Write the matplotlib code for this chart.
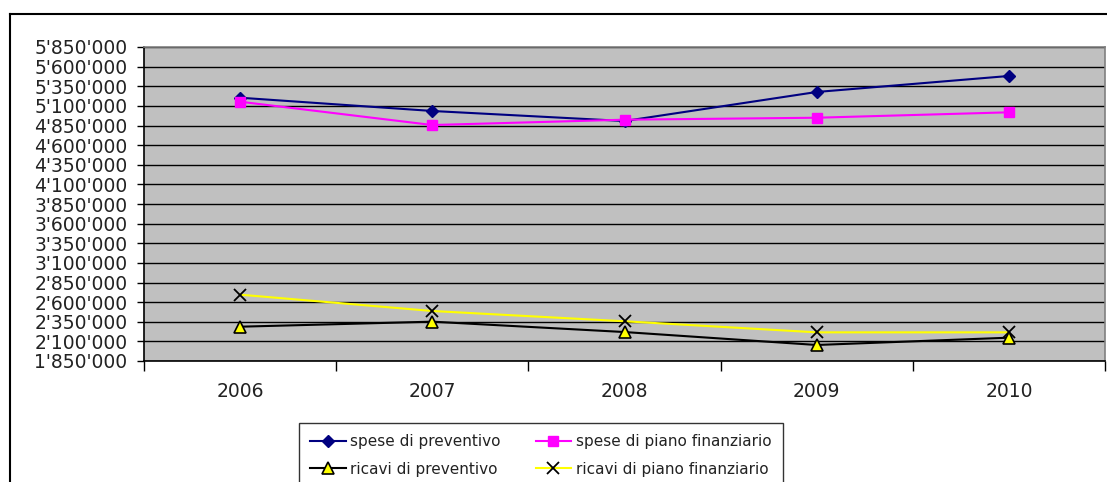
import matplotlib.pyplot as plt
from matplotlib.ticker import FuncFormatter, FixedLocator
from matplotlib.lines import Line2D

## Data
years = ["2006", "2007", "2008", "2009", "2010"]
spese_preventivo = [5204000, 5035000, 4907000, 5277000, 5481000]
spese_piano = [5153000, 4856000, 4924000, 4949000, 5018000]
ricavi_preventivo = [2287000, 2351000, 2219000, 2054000, 2147000]
ricavi_piano = [2695000, 2487000, 2356000, 2215000, 2215000]

plt.rcParams["font.family"] = ["DejaVu Sans"]

fig = plt.figure(figsize=(11.07, 4.82), dpi=100)
ax = fig.add_axes([144 / 1107, 1 - 361 / 482, (1105 - 144) / 1107, (361 - 47) / 482])
ax.set_facecolor("#C0C0C0")

x = list(range(len(years)))
ax.plot(x, spese_preventivo, color="#000080", lw=1.5, marker="D", ms=6.5,
        mfc="#000080", mec="#000080", label="spese di preventivo", zorder=3)
ax.plot(x, spese_piano, color="#FF00FF", lw=1.5, marker="s", ms=7,
        mfc="#FF00FF", mec="#FF00FF", label="spese di piano finanziario", zorder=3)
ax.plot(x, ricavi_preventivo, color="black", lw=1.5, marker="^", ms=8,
        mfc="#FFFF00", mec="black", mew=1.2, label="ricavi di preventivo", zorder=3)
ax.plot(x, ricavi_piano, color="#FFFF00", lw=1.5, marker="x", ms=8,
        mec="black", mew=1.3, label="ricavi di piano finanziario", zorder=3)

# axes and grid
ax.set_xlim(-0.5, len(years) - 0.5)
ax.set_ylim(1850000, 5850000)
ax.yaxis.set_major_locator(FixedLocator(range(1850000, 5850001, 250000)))
ax.yaxis.set_major_formatter(FuncFormatter(lambda v, p: f"{int(v):,}".replace(",", "'")))
ax.grid(axis="y", color="black", lw=1)
ax.set_axisbelow(True)

ax.xaxis.set_major_locator(FixedLocator([i - 0.5 for i in range(len(years) + 1)]))
ax.xaxis.set_major_formatter(FuncFormatter(lambda v, p: ""))
ax.xaxis.set_minor_locator(FixedLocator(x))
ax.set_xticklabels(years, minor=True)
ax.tick_params(axis="x", which="major", length=7, width=1, color="black")
ax.tick_params(axis="x", which="minor", length=0, pad=15, labelsize=13.5, labelcolor="#222222")
ax.tick_params(axis="y", length=5, width=1, labelsize=13.5, labelcolor="#222222", pad=7)

for s in ["left", "bottom"]:
    ax.spines[s].set_color("black")
    ax.spines[s].set_linewidth(1.2)
for s in ["top", "right"]:
    ax.spines[s].set_color("#808080")
    ax.spines[s].set_linewidth(1.2)

# outer chart border
fig.add_artist(Line2D([10 / 1107, 10 / 1107], [0, 1 - 14 / 482], transform=fig.transFigure,
                      color="black", lw=1.5))
fig.add_artist(Line2D([10 / 1107, 1], [1 - 14 / 482, 1 - 14 / 482], transform=fig.transFigure,
                      color="black", lw=1.5))

# legend
handles, labels = ax.get_legend_handles_labels()
order = [0, 2, 1, 3]
leg = fig.legend([handles[i] for i in order], [labels[i] for i in order], ncol=2,
                 loc="upper left", bbox_to_anchor=(299 / 1107, 1 - 423 / 482),
                 frameon=True, fancybox=False, edgecolor="black", fontsize=11,
                 handlelength=2.3, handletextpad=0.3, columnspacing=2.3,
                 labelspacing=0.8, borderpad=0.75, borderaxespad=0)
leg.get_frame().set_linewidth(1)
for t in leg.get_texts():
    t.set_color("#222222")

fig.savefig("out.png", dpi=100)
